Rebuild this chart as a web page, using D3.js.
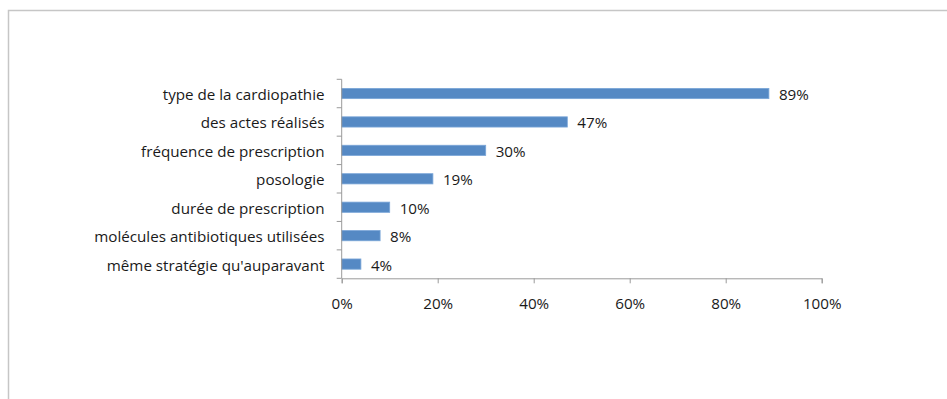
<!DOCTYPE html>
<html>
<head>
<meta charset="utf-8">
<script src="https://cdn.jsdelivr.net/npm/d3@7"></script>
<style>
  html, body { margin: 0; padding: 0; background: #fff; }
  svg { display: block; }
  text { font-family: "Open Sans", Lato, sans-serif; fill: #1a1a1a; }
</style>
</head>
<body>
<svg id="chart" width="947" height="399"></svg>
<script>
// Categories and their share of responses (percent)
const categories = [
  "type de la cardiopathie",
  "des actes réalisés",
  "fréquence de prescription",
  "posologie",
  "durée de prescription",
  "molécules antibiotiques utilisées",
  "même stratégie qu'auparavant"
];
const values = [89, 47, 30, 19, 10, 8, 4];
const xTicks = [0, 20, 40, 60, 80, 100];

const svg = d3.select("#chart");
const fontSize = 15.2;

// Frame around the chart area
svg.append("rect")
  .attr("x", 8.5).attr("y", 10.5)
  .attr("width", 960).attr("height", 420)
  .attr("fill", "none")
  .attr("stroke", "#c6c6c6")
  .attr("stroke-width", 1.5);

const plot = { left: 341.7, right: 821.7, top: 79.3, bottom: 278.3 };

const x = d3.scaleLinear().domain([0, 100]).range([plot.left, plot.right]);
const y = d3.scaleBand().domain(categories).range([plot.top, plot.bottom]).paddingInner(0.64).paddingOuter(0.32);
const band = d3.scaleBand().domain(categories).range([plot.top, plot.bottom]);

const axisColor = "#9a9a9a";

// Bars
svg.append("g").selectAll("rect")
  .data(categories)
  .join("rect")
  .attr("x", x(0))
  .attr("y", d => y(d))
  .attr("width", (d, i) => x(values[i]) - x(0))
  .attr("height", y.bandwidth())
  .attr("fill", "#5589c4")
  .attr("stroke", "#7aa6d8")
  .attr("stroke-width", 0.8);

// Value labels
svg.append("g").selectAll("text")
  .data(categories)
  .join("text")
  .attr("x", (d, i) => x(values[i]) + 10)
  .attr("y", d => band(d) + band.bandwidth() / 2 + 1)
  .attr("dy", "0.36em")
  .attr("font-size", fontSize)
  .text((d, i) => values[i] + "%");

// Vertical axis with tick marks at band boundaries
const ya = svg.append("g");
ya.append("line")
  .attr("x1", plot.left).attr("x2", plot.left)
  .attr("y1", plot.top).attr("y2", plot.bottom)
  .attr("stroke", axisColor);
const bounds = categories.map(c => band(c)).concat([plot.bottom]);
ya.selectAll("line.tick")
  .data(bounds)
  .join("line")
  .attr("class", "tick")
  .attr("x1", plot.left - 5).attr("x2", plot.left)
  .attr("y1", d => d).attr("y2", d => d)
  .attr("stroke", axisColor);
ya.selectAll("text")
  .data(categories)
  .join("text")
  .attr("x", 324.5)
  .attr("y", d => band(d) + band.bandwidth() / 2 + 1)
  .attr("dy", "0.36em")
  .attr("text-anchor", "end")
  .attr("font-size", fontSize)
  .text(d => d);

// Horizontal axis
const xa = svg.append("g").attr("transform", `translate(0,${plot.bottom})`)
  .call(d3.axisBottom(x).tickValues(xTicks).tickSize(5).tickPadding(15).tickFormat(d => d + "%"));
xa.select(".domain").attr("stroke", axisColor);
xa.selectAll(".tick line").attr("stroke", axisColor);
xa.selectAll(".tick text")
  .attr("font-size", fontSize)
  .attr("font-family", "'Open Sans', Lato, sans-serif")
  .attr("fill", "#1a1a1a");
</script>
</body>
</html>
